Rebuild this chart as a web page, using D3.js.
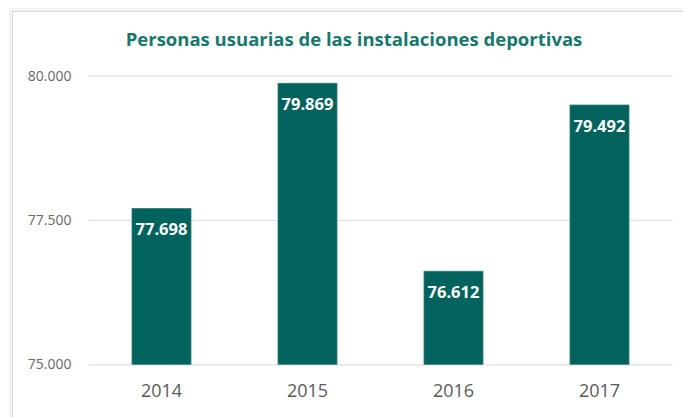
<!DOCTYPE html>
<html>
<head>
<meta charset="utf-8">
<script src="https://cdn.jsdelivr.net/npm/d3@7"></script>
<style>
  body { margin: 0; background: #fff; }
  svg { display: block; }
</style>
</head>
<body>
<div id="vis"></div>
<script>
// data
var years = ["2014", "2015", "2016", "2017"];
var users = [77698, 79869, 76612, 79492];
var yTicks = [75000, 77500, 80000];
var title = "Personas usuarias de las instalaciones deportivas";

var width = 683, height = 417;
var margin = {top: 75.7, right: 10.5, bottom: 52.7, left: 88.5};

var fmt = function(v) { return d3.format(",")(v).replace(/,/g, "."); };
var fmtTick = function(v) { return d3.format(",.0f")(v).replace(/,/g, "."); };

var svg = d3.select("#vis")
    .append("svg")
    .attr("width", width)
    .attr("height", height);

/* chart frame with a soft shadow */
svg.append("rect")
    .attr("x", 10.5).attr("y", 9.5)
    .attr("width", 700).attr("height", 420)
    .attr("fill", "none")
    .attr("stroke", "#f3f3f3")
    .attr("stroke-width", 3);
svg.append("rect")
    .attr("x", 12.5).attr("y", 11.5)
    .attr("width", 700).attr("height", 420)
    .attr("fill", "#fff")
    .attr("stroke", "#d6d6d6");

var x = d3.scaleBand()
    .domain(years)
    .range([margin.left, width - margin.right])
    .paddingInner(0.596)
    .paddingOuter(0.298);

var y = d3.scaleLinear()
    .domain([75000, 80000])
    .range([height - margin.bottom, margin.top]);

/* gridlines + left labels */
var yAxis = d3.axisLeft(y)
    .tickValues(yTicks)
    .tickFormat(fmtTick)
    .tickSize(-(width - margin.right - margin.left))
    .tickPadding(17);

var gy = svg.append("g")
    .attr("transform", "translate(" + margin.left + ",0)")
    .call(yAxis);
gy.select(".domain").remove();
gy.selectAll(".tick line").attr("stroke", "#e0e0e0").attr("stroke-width", 1.2);
gy.selectAll(".tick text")
    .attr("fill", "#6a6a6a")
    .style("font-family", "'Open Sans', sans-serif")
    .style("font-size", "14px");

/* bars */
svg.selectAll("rect.bar")
    .data(users)
    .enter()
    .append("rect")
    .attr("class", "bar")
    .attr("x", function(d, i) { return x(years[i]); })
    .attr("y", function(d) { return y(d); })
    .attr("width", x.bandwidth())
    .attr("height", function(d) { return y(75000) - y(d); })
    .attr("fill", "#02635e")
    .attr("stroke", "#2a7c77")
    .attr("stroke-width", 0.8);

/* value labels inside bars */
svg.selectAll("text.val")
    .data(users)
    .enter()
    .append("text")
    .attr("class", "val")
    .attr("x", function(d, i) { return x(years[i]) + x.bandwidth() / 2; })
    .attr("y", function(d) { return y(d) + 21; })
    .attr("dy", "0.35em")
    .attr("text-anchor", "middle")
    .attr("fill", "#fff")
    .style("font-family", "'Open Sans', sans-serif")
    .style("font-weight", "700")
    .style("font-size", "16.5px")
    .text(fmt);

/* year labels */
var xAxis = d3.axisBottom(x).tickSize(0).tickPadding(20);
var gx = svg.append("g")
    .attr("transform", "translate(0," + (height - margin.bottom) + ")")
    .call(xAxis);
gx.select(".domain").remove();
gx.selectAll(".tick text")
    .attr("fill", "#5a5a5a")
    .style("font-family", "'Open Sans', sans-serif")
    .style("font-size", "18px");

/* title */
svg.append("text")
    .attr("x", 354)
    .attr("y", 46)
    .attr("text-anchor", "middle")
    .attr("fill", "#17786d")
    .style("font-family", "'Open Sans', sans-serif")
    .style("font-weight", "700")
    .style("font-size", "18.5px")
    .text(title);
</script>
</body>
</html>
